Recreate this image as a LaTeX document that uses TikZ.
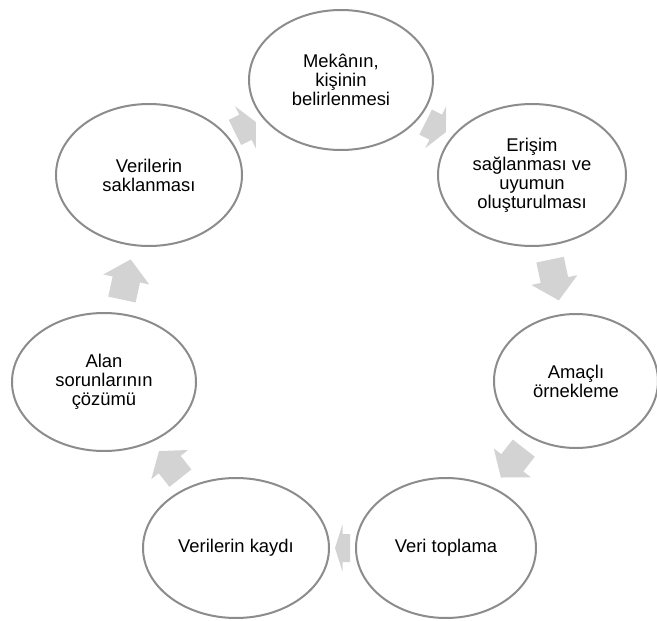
\documentclass[tikz,border=0pt]{standalone}
\usepackage{fontspec}
\setmainfont{Liberation Sans}
\usetikzlibrary{calc,shapes.geometric}
\definecolor{ringline}{RGB}{140,140,140}
\definecolor{arrowfill}{RGB}{211,211,211}
\begin{document}
\begin{tikzpicture}[x=1pt,y=1pt,
  stage/.style={ellipse, draw=ringline, line width=2pt, fill=white,
    inner sep=0pt, align=center, font=\fontsize{18.4}{19}\selectfont}]
\useasboundingbox (0,0) rectangle (657,-621);
% the seven stages of the cycle
\node[stage, minimum width=184, minimum height=140] (n1) at (341,-80) {Mekânın,\\kişinin\\belirlenmesi};
\node[stage, minimum width=188, minimum height=142] (n2) at (532,-175) {Erişim\\sağlanması ve\\uyumun\\oluşturulması};
\node[stage, minimum width=164, minimum height=134] (n3) at (576,-381) {Amaçlı\\örnekleme};
\node[stage, minimum width=180, minimum height=140] (n4) at (446,-548) {Veri toplama};
\node[stage, minimum width=186, minimum height=140] (n5) at (236,-548) {Verilerin kaydı};
\node[stage, minimum width=184, minimum height=138] (n6) at (104,-382) {Alan\\sorunlarının\\çözümü};
\node[stage, minimum width=186, minimum height=142] (n7) at (149,-175) {Verilerin\\saklanması};
% block arrows filling the middle 60% of each gap
\foreach \s/\t [count=\i] in {n1/n2,n2/n3,n3/n4,n4/n5,n5/n6,n6/n7,n7/n1}{
  \path (\s) -- (\t) coordinate[pos=0.2] (a\i) coordinate[pos=0.8] (b\i);
  \fill[arrowfill] let \p1=($(b\i)-(a\i)$), \n1={atan2(\y1,\x1)},
      \n2={veclen(\x1,\y1)}, \n3={0.5*min(\n2,47)} in
    [shift={(a\i)}, rotate=\n1]
    (0,-14) -- (\n2-\n3,-14) -- (\n2-\n3,-23.5) -- (\n2,0)
    -- (\n2-\n3,23.5) -- (\n2-\n3,14) -- (0,14) -- cycle;
}
\end{tikzpicture}
\end{document}
